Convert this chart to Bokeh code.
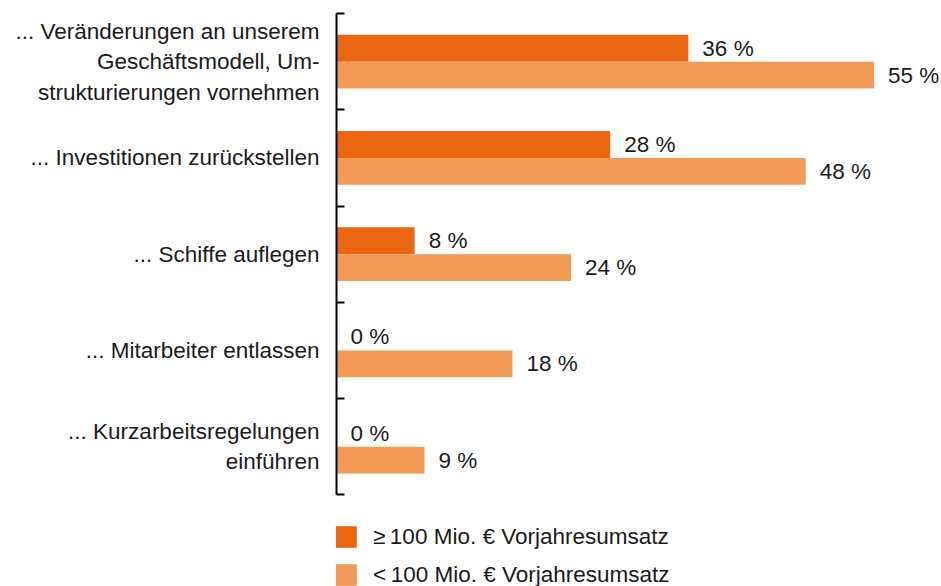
from bokeh.plotting import figure
from bokeh.models import Range1d, FixedTicker, Legend, LegendItem, ColumnDataSource
from bokeh.core.properties import value
from bokeh.embed import file_html
from bokeh.resources import INLINE

# ---- data ----
categories = [
    "... Veränderungen an unserem\nGeschäftsmodell, Um-\nstrukturierungen vornehmen",
    "... Investitionen zurückstellen",
    "... Schiffe auflegen",
    "... Mitarbeiter entlassen",
    "... Kurzarbeitsregelungen\neinführen",
]
large = [36, 28, 8, 0, 0]      # >= 100 Mio. € Vorjahresumsatz
small = [55, 48, 24, 18, 9]    # < 100 Mio. € Vorjahresumsatz
series_names = ["\u2265\u2009100 Mio. € Vorjahresumsatz", "<\u2009100 Mio. € Vorjahresumsatz"]

# ---- style ----
FONT = "Liberation Sans"
FSIZE = "22.5px"
DARK = "#EA6610"
LIGHT = "#F29A56"
TEXT = "#1a1a1a"

n = len(categories)
centers = [i + 0.5 for i in range(n)]
bar_h = 0.28
y_large = [c - bar_h / 2 for c in centers]
y_small = [c + bar_h / 2 for c in centers]
legend_room = 0.953   # extra y-range below the categories that holds the legend

src = ColumnDataSource(dict(
    y_l=y_large, y_s=y_small, large=large, small=small,
    lab_l=[f"{v} %" for v in large], lab_s=[f"{v} %" for v in small],
))

p = figure(width=941, height=586, output_backend="svg", toolbar_location=None,
           x_range=Range1d(0, 61.9), y_range=Range1d(n + legend_room, 0), x_axis_location=None,
           min_border_left=336, min_border_right=0, min_border_top=13, min_border_bottom=0)
p.grid.visible = False
p.outline_line_color = None
p.title.visible = False

r1 = p.hbar(y="y_l", left=0, right="large", height=bar_h, source=src,
            fill_color=DARK, line_color=None)
r2 = p.hbar(y="y_s", left=0, right="small", height=bar_h, source=src,
            fill_color=LIGHT, line_color=None)

for xcol, ycol, tcol in (("large", "y_l", "lab_l"), ("small", "y_s", "lab_s")):
    p.text(x=xcol, y=ycol, text=tcol, source=src, x_offset=14,
           text_baseline="middle", text_align="left",
           text_font=value(FONT), text_font_size=value(FSIZE), text_color=TEXT)

ax = p.yaxis[0]
ax.bounds = (0, n)
ax.ticker = FixedTicker(ticks=centers, minor_ticks=list(range(n + 1)))
ax.major_label_overrides = {c: lab for c, lab in zip(centers, categories)}
ax.major_tick_in = 0
ax.major_tick_out = 0
ax.minor_tick_in = 8
ax.minor_tick_out = 0
ax.minor_tick_line_width = 2
ax.minor_tick_line_color = "black"
ax.axis_line_width = 2
ax.axis_line_color = "black"
ax.major_label_standoff = 17
ax.major_label_text_font = FONT
ax.major_label_text_font_size = FSIZE
ax.major_label_text_color = TEXT
ax.major_label_text_line_height = 1.22

legend = Legend(
    items=[LegendItem(label=series_names[0], renderers=[r1]),
           LegendItem(label=series_names[1], renderers=[r2])],
    location=(-4, -2), orientation="vertical",
    glyph_width=27, glyph_height=27, label_height=27, spacing=11,
    padding=0, margin=0, label_standoff=14,
    label_text_font=FONT, label_text_font_size=FSIZE, label_text_color=TEXT,
    border_line_color=None, background_fill_alpha=0,
)
p.add_layout(legend, "center")

open("out.html", "w").write(file_html(p, INLINE))
